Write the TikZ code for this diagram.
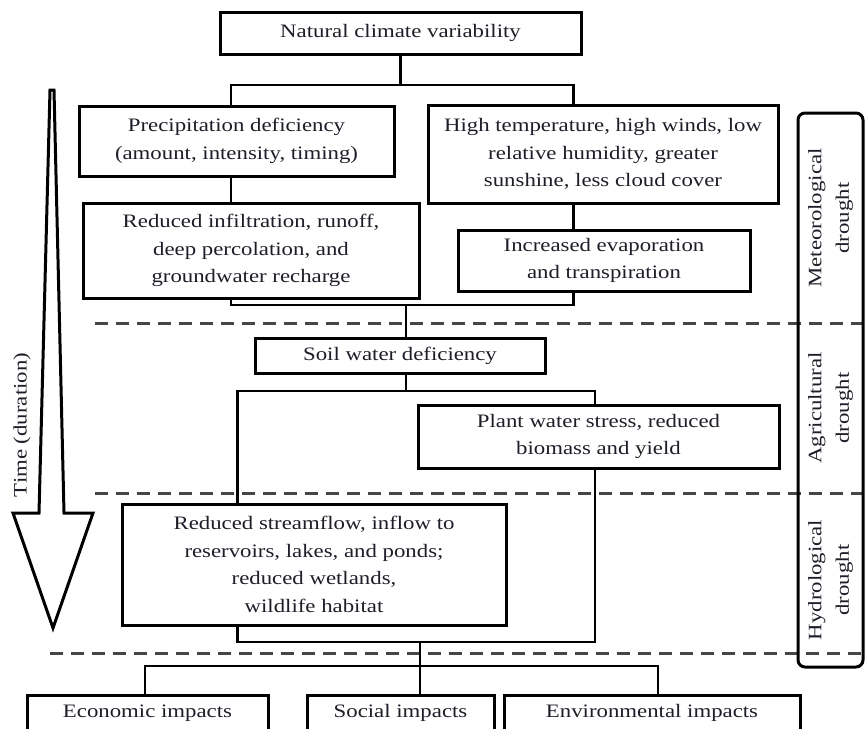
\documentclass[tikz,border=0pt]{standalone}
\usepackage{fontspec}
\setmainfont[FakeStretch=1.2]{Liberation Serif}
\definecolor{ink}{RGB}{30,30,40}
\definecolor{sepgray}{RGB}{70,70,70}
\begin{document}
\begin{tikzpicture}[x=1pt,y=-1pt,
  txt/.style={text=ink, font=\fontsize{19}{27.5}\selectfont, align=center},
  box/.style={txt, draw=black, line width=3pt, fill=white, inner sep=0pt},
  conn/.style={line width=2.8pt, draw=black},
  sep/.style={line width=3pt, draw=sepgray, dash pattern=on 13pt off 8pt},
  phase/.style={txt, rotate=90},
]
\useasboundingbox (0,0) rectangle (866,728);
\clip (0,0) rectangle (866,728);

% stage separators
\coordinate (d1s) at (95,323);  \coordinate (d1e) at (866,323);
\coordinate (d2s) at (95,493);  \coordinate (d2e) at (866,493);
\coordinate (d3s) at (50,653);  \coordinate (d3e) at (866,653);
\draw[sep] (d1s) -- (d1e);
\draw[sep] (d2s) -- (d2e);
\draw[sep] (d3s) -- (d3e);

% time arrow
\draw[line width=3pt, line join=miter, fill=white]
  (50,90) -- (54,90) -- (64,513) -- (93,513) -- (53,628) -- (13,513) -- (39,513) -- cycle;
\node[phase] (time) at (22,425) {Time (duration)};

% drought type bracket
\node[draw=black, line width=3pt, rounded corners=7pt, minimum width=65, minimum height=554] (side) at (830.5,390) {};
\node[phase] (met) at (830.5,218) {Meteorological\\drought};
\node[phase] (agr) at (830.5,408) {Agricultural\\drought};
\node[phase] (hyd) at (830.5,580) {Hydrological\\drought};

% boxes
\node[box, minimum width=361, minimum height=42] (nat) at (400.5,33) {Natural climate variability};
\node[box, minimum width=315, minimum height=70] (prec) at (236.5,141) {Precipitation deficiency\\(amount, intensity, timing)};
\node[box, minimum width=350, minimum height=98] (heat) at (603,154) {High temperature, high winds, low\\relative humidity, greater\\sunshine, less cloud cover};
\node[box, minimum width=336, minimum height=95] (infil) at (251,250.5) {Reduced infiltration, runoff,\\deep percolation, and\\groundwater recharge};
\node[box, minimum width=292, minimum height=61] (evap) at (604,260.5) {Increased evaporation\\and transpiration};
\node[box, minimum width=290, minimum height=35] (soil) at (400,355.5) {Soil water deficiency};
\node[box, minimum width=361, minimum height=63] (plant) at (598.5,436.5) {Plant water stress, reduced\\biomass and yield};
\node[box, minimum width=384, minimum height=121] (stream) at (314,564.5) {Reduced streamflow, inflow to\\reservoirs, lakes, and ponds;\\reduced wetlands,\\wildlife habitat};
\node[box, minimum width=241, minimum height=36] (econ) at (147.5,713) {Economic impacts};
\node[box, minimum width=187, minimum height=36] (social) at (400.5,713) {Social impacts};
\node[box, minimum width=296, minimum height=36] (env) at (652,713) {Environmental impacts};

% connectors
\coordinate (b1L) at (231,85);    \coordinate (b1R) at (573.5,85);
\coordinate (b2L) at (231,305);   \coordinate (b2R) at (573.5,305);  \coordinate (b2M) at (406,305);
\coordinate (b3L) at (237.5,391); \coordinate (b3R) at (595,391);
\coordinate (b4L) at (237.5,642); \coordinate (b4R) at (595,642);    \coordinate (b4M) at (420,642);
\coordinate (b5L) at (145,666);   \coordinate (b5R) at (658,666);

\draw[conn] (nat.south) -- (nat.south |- b1L);
\draw[conn] (prec.north -| b1L) -- (b1L) -- (b1R) -- (heat.north -| b1R);
\draw[conn] (prec.south -| b1L) -- (infil.north -| b1L);
\draw[conn] (heat.south -| b1R) -- (evap.north -| b1R);
\draw[conn] (infil.south -| b2L) -- (b2L) -- (b2R) -- (evap.south -| b2R);
\draw[conn] (b2M) -- (soil.north -| b2M);
\draw[conn] (soil.south -| b2M) -- (b2M |- b3L);
\draw[conn] (stream.north -| b3L) -- (b3L) -- (b3R) -- (plant.north -| b3R);
\draw[conn] (stream.south -| b4L) -- (b4L) -- (b4R) -- (plant.south -| b4R);
\draw[conn] (b4M) -- (b4M |- b5L);
\draw[conn] (econ.north -| b5L) -- (b5L) -- (b5R) -- (env.north -| b5R);
\draw[conn] (b4M |- b5L) -- (social.north -| b4M);
\end{tikzpicture}
\end{document}
